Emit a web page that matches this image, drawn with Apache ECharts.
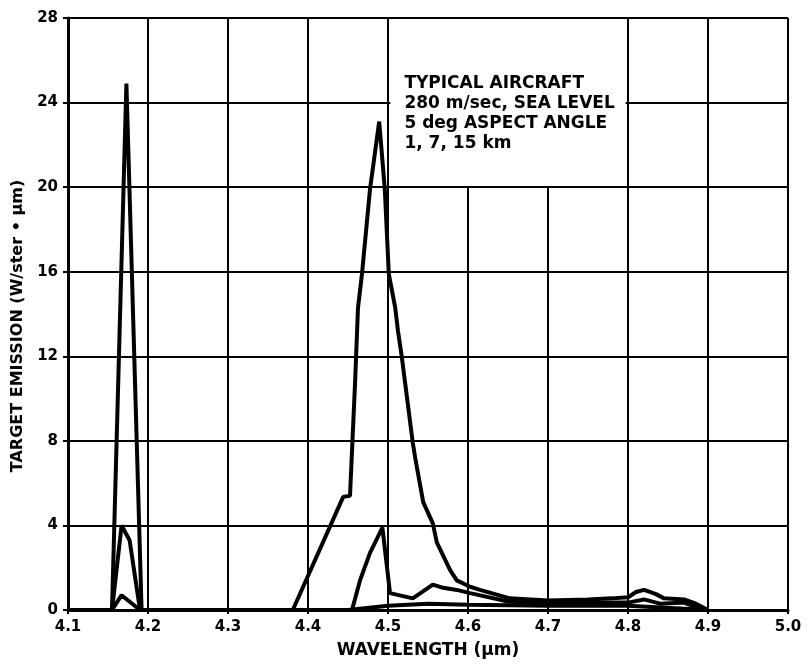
<!DOCTYPE html>
<html>
<head>
<meta charset="utf-8">
<script src="https://cdn.jsdelivr.net/npm/echarts@6/dist/echarts.min.js"></script>
<style>
html,body{margin:0;padding:0;background:#fff;}
#chart{width:811px;height:671px;}
</style>
</head>
<body>
<div id="chart"></div>
<script>
// Wavelength (µm) and target emission (W/ster·µm) for the three ranges
var wl1km = [4.1, 4.155, 4.173, 4.192, 4.381, 4.444, 4.4525, 4.459, 4.4625, 4.4675, 4.4775, 4.489, 4.496, 4.501, 4.509, 4.5125, 4.5175, 4.531, 4.534, 4.544, 4.556, 4.561, 4.5775, 4.586, 4.6025, 4.615, 4.6525, 4.7, 4.75, 4.78, 4.8, 4.81, 4.82, 4.835, 4.845, 4.87, 4.885, 4.9];
var em1km = [0, 0, 24.9, 0, 0, 5.35, 5.4, 10.9, 14.3, 15.9, 19.9, 23.1, 19.9, 15.9, 14.3, 13.2, 11.9, 7.9, 7.2, 5.1, 4.1, 3.2, 1.9, 1.4, 1.1, 0.95, 0.55, 0.45, 0.5, 0.55, 0.6, 0.85, 0.95, 0.75, 0.55, 0.5, 0.3, 0];

var wl7km = [4.1, 4.155, 4.167, 4.177, 4.19, 4.455, 4.465, 4.4775, 4.493, 4.5025, 4.531, 4.556, 4.569, 4.586, 4.6025, 4.65, 4.7, 4.75, 4.8, 4.82, 4.84, 4.87, 4.895];
var em7km = [0, 0, 4.0, 3.3, 0, 0, 1.4, 2.7, 3.9, 0.8, 0.55, 1.2, 1.05, 0.95, 0.8, 0.4, 0.3, 0.35, 0.35, 0.5, 0.3, 0.35, 0];

var wl15km = [4.1, 4.155, 4.167, 4.19, 4.45, 4.5, 4.55, 4.6, 4.7, 4.8, 4.9];
var em15km = [0, 0, 0.7, 0, 0, 0.2, 0.3, 0.25, 0.2, 0.2, 0];

var xTicks = [4.1, 5.0, 0.1];   // min, max, interval
var yTicks = [0, 28, 4];
var noteLines = ['TYPICAL AIRCRAFT', '280 m/sec, SEA LEVEL', '5 deg ASPECT ANGLE', '1, 7, 15 km'];
var noteBox = [[4.5, 28], [4.8, 20]];

function pairs(xs, ys) { return xs.map(function (x, i) { return [x, ys[i]]; }); }

var FONT = 'DejaVu Sans';
var lineStyle = { color: '#000', width: 4 };

var chart = echarts.init(document.getElementById('chart'));
chart.setOption({
  animation: false,
  backgroundColor: '#fff',
  grid: { left: 68, right: 23, top: 18, bottom: 61 },
  xAxis: {
    type: 'value', min: xTicks[0], max: xTicks[1], interval: xTicks[2],
    name: 'WAVELENGTH (\u03bcm)', nameLocation: 'middle', nameGap: 32,
    nameTextStyle: { fontFamily: FONT, fontWeight: 'bold', fontSize: 17, color: '#000' },
    axisLine: { lineStyle: { color: '#000', width: 3 } },
    axisTick: { show: true, length: 4, lineStyle: { color: '#000', width: 2 } },
    axisLabel: { formatter: function (v) { return v.toFixed(1); }, margin: 10,
      fontFamily: FONT, fontWeight: 'bold', fontSize: 15, color: '#000' },
    splitLine: { show: true, lineStyle: { color: '#000', width: 2 } }
  },
  yAxis: {
    type: 'value', min: yTicks[0], max: yTicks[1], interval: yTicks[2],
    name: 'TARGET EMISSION (W/ster \u2022 \u03bcm)', nameLocation: 'middle', nameGap: 42,
    nameTextStyle: { fontFamily: FONT, fontWeight: 'bold', fontSize: 16, color: '#000', padding: [0, 24, 0, 0] },
    axisLine: { show: true, lineStyle: { color: '#000', width: 3 } },
    axisTick: { show: true, length: 5, lineStyle: { color: '#000', width: 2 } },
    axisLabel: { margin: 10, fontFamily: FONT, fontWeight: 'bold', fontSize: 15, color: '#000' },
    splitLine: { show: true, lineStyle: { color: '#000', width: 2 } }
  },
  series: [
    {
      type: 'line', data: [], z: 1, silent: true,
      markArea: {
        silent: true,
        itemStyle: { color: '#fff' },
        label: {
          show: true, position: 'insideTopLeft', distance: 0, offset: [14, 55],
          formatter: noteLines.join('\n'),
          fontFamily: FONT, fontWeight: 'bold', fontSize: 17, lineHeight: 20,
          color: '#000'
        },
        data: [[{ coord: [noteBox[0][0] + 0.003, noteBox[0][1] - 0.05] }, { coord: [noteBox[1][0] - 0.003, noteBox[1][1] + 0.05] }]]
      }
    },
    { name: '1 km', type: 'line', z: 3, data: pairs(wl1km, em1km), showSymbol: false, lineStyle: lineStyle },
    { name: '7 km', type: 'line', z: 3, data: pairs(wl7km, em7km), showSymbol: false, lineStyle: lineStyle },
    { name: '15 km', type: 'line', z: 3, data: pairs(wl15km, em15km), showSymbol: false, lineStyle: lineStyle }
  ]
});
</script>
</body>
</html>
